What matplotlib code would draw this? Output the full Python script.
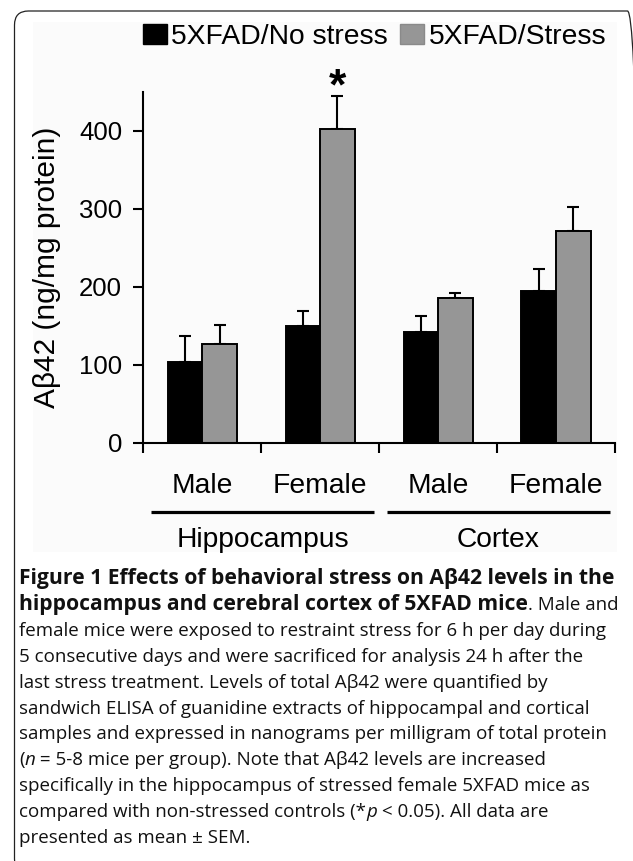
import matplotlib
matplotlib.use("Agg")
import matplotlib.pyplot as plt
from matplotlib.patches import Patch, Rectangle, FancyBboxPatch
from matplotlib.transforms import IdentityTransform
import numpy as np

plt.rcParams['font.family'] = ['Liberation Sans', 'DejaVu Sans']

# values (ng/mg protein, mean and SEM)
categories = ['Male', 'Female', 'Male', 'Female']
regions = ['Hippocampus', 'Cortex']
series_names = ['5XFAD/No stress', '5XFAD/Stress']
no_stress = [103, 149, 142, 195]
no_stress_sem = [34, 20, 21, 28]
stress = [126, 402, 186, 271]
stress_sem = [25, 42, 6, 31]
y_ticks = [0, 100, 200, 300, 400]

caption_lines = [
    [("Figure 1 Effects of behavioral stress on A\u03b242 levels in the", "bold")],
    [("hippocampus and cerebral cortex of 5XFAD mice", "bold"), (". Male and", "normal")],
    [("female mice were exposed to restraint stress for 6 h per day during", "normal")],
    [("5 consecutive days and were sacrificed for analysis 24 h after the", "normal")],
    [("last stress treatment. Levels of total A\u03b242 were quantified by", "normal")],
    [("sandwich ELISA of guanidine extracts of hippocampal and cortical", "normal")],
    [("samples and expressed in nanograms per milligram of total protein", "normal")],
    [("(", "normal"), ("n", "italic"), (" = 5-8 mice per group). Note that A\u03b242 levels are increased", "normal")],
    [("specifically in the hippocampus of stressed female 5XFAD mice as", "normal")],
    [("compared with non-stressed controls (*", "normal"), ("p", "italic"), (" < 0.05). All data are", "normal")],
    [("presented as mean \u00b1 SEM.", "normal")],
]

W, H = 633, 861
fig = plt.figure(figsize=(W / 100, H / 100), dpi=100)

# outer frame with rounded corners (right/bottom edges run off the canvas)
frame = FancyBboxPatch((14.5, -12), 627, H + 1,
                       boxstyle="round,pad=0,rounding_size=14",
                       transform=IdentityTransform(), fill=False,
                       edgecolor='#222222', linewidth=0.9)
fig.patches.append(frame)
# faint panel behind the chart image
fig.patches.append(Rectangle((33 / W, 1 - 552 / H), (617 - 33) / W, (552 - 22) / H,
                             transform=fig.transFigure, facecolor='#fbfbfb',
                             edgecolor='none', zorder=-5))

ax_left, ax_right, ax_top, ax_bottom = 143.3, 615, 91.7, 442.7
ax = fig.add_axes([ax_left / W, 1 - ax_bottom / H,
                   (ax_right - ax_left) / W, (ax_bottom - ax_top) / H])
ax.patch.set_alpha(0)

x = np.arange(len(categories))
bw = 0.293
ax.bar(x - bw / 2, no_stress, bw, color='black', edgecolor='black', linewidth=1.4, zorder=2)
ax.bar(x + bw / 2, stress, bw, color='#969696', edgecolor='black', linewidth=1.4, zorder=2)
ax.errorbar(x - bw / 2, no_stress, yerr=[np.zeros(4), no_stress_sem], fmt='none',
            ecolor='black', elinewidth=1.5, capsize=4.5, capthick=1.5, zorder=1)
ax.errorbar(x + bw / 2, stress, yerr=[np.zeros(4), stress_sem], fmt='none',
            ecolor='black', elinewidth=1.5, capsize=4.5, capthick=1.5, zorder=1)

# significance mark on stressed female hippocampus
ax.text(1 + bw / 2, 440, '*', ha='center', va='baseline', fontsize=32,
        fontweight='bold', clip_on=False)

ax.set_xlim(-0.5, 3.5)
ax.set_ylim(0, 450)
ax.set_yticks(y_ticks)
ax.set_xticks(np.arange(-0.5, 4, 1.0))
ax.set_xticklabels([])
ax.spines['top'].set_visible(False)
ax.spines['right'].set_visible(False)
for s in ('left', 'bottom'):
    ax.spines[s].set_linewidth(1.5)
ax.tick_params(direction='out', length=7.2, width=1.5, labelsize=18.5, pad=8)

ax.set_ylabel('A\u03b242 (ng/mg protein)', fontsize=21.5)
ax.yaxis.set_label_coords(-0.1745, 0.5)

# category and region labels below the axis
tr = ax.get_xaxis_transform()
for xi, lab in zip(x, categories):
    ax.text(xi, -0.1433, lab, transform=tr, ha='center', va='baseline',
            fontsize=20.3, clip_on=False)
for gi, reg in enumerate(regions):
    x0, x1 = 2 * gi - 0.437, 2 * gi + 1 + 0.459
    ax.plot([x0, x1], [-0.1966, -0.1966], transform=tr, color='black',
            linewidth=2.3, clip_on=False, solid_capstyle='butt')
    ax.text((x0 + x1) / 2, -0.2963, reg, transform=tr, ha='center', va='baseline',
            fontsize=20.3, clip_on=False)

handles = [Patch(facecolor='black', edgecolor='black'),
           Patch(facecolor='#969696', edgecolor='#8a8a8a')]
fig.legend(handles, series_names, loc='center left', bbox_to_anchor=(143 / W, 1 - 37 / H),
           ncol=2, frameon=False, fontsize=20.3, handlelength=0.86, handleheight=0.72,
           handletextpad=0.15, columnspacing=0.42, borderpad=0, borderaxespad=0)

# caption, drawn run by run so bold/italic pieces line up
fig.canvas.draw()
renderer = fig.canvas.get_renderer()
sizes = {'normal': 13.5, 'italic': 13.5, 'bold': 15.2}
for i, runs in enumerate(caption_lines):
    xp = 19.0
    yp = 584 + 25.9 * i
    for txt, style in runs:
        kw = {}
        if style == 'bold':
            kw['fontweight'] = 'bold'
        elif style == 'italic':
            kw['fontstyle'] = 'italic'
        t = fig.text(xp / W, 1 - yp / H, txt, fontsize=sizes[style], family='Open Sans',
                     ha='left', va='baseline', color='#111111', **kw)
        xp += t.get_window_extent(renderer).width

fig.savefig('out.png', dpi=100)
